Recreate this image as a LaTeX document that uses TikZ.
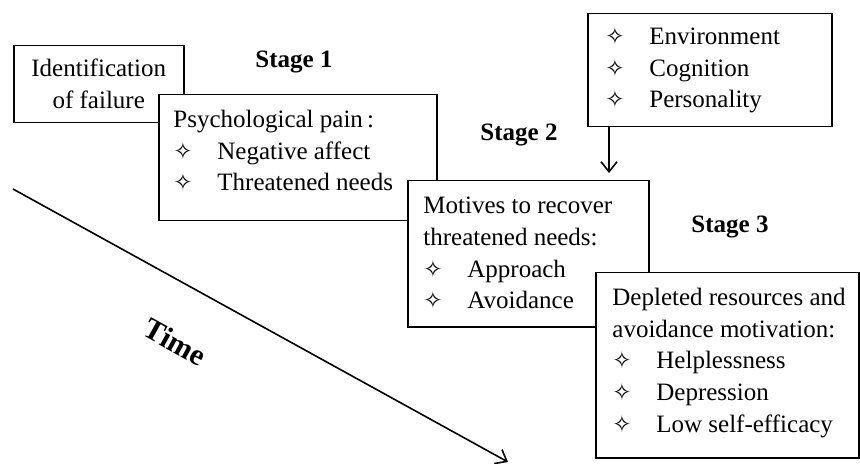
\documentclass[tikz,border=0pt]{standalone}
\usepackage{fontspec}
\setmainfont{Liberation Serif}
\newfontfamily\symfont{DejaVu Sans}
\usetikzlibrary{arrows.meta, positioning}
\newcommand{\itm}[1]{\makebox[22pt][l]{\symfont\fontsize{11.5}{11.5}\selectfont ✧}#1}

\begin{document}
\begin{tikzpicture}[
  x=0.5pt, y=-0.5pt,
  box/.style={rectangle, draw, fill=white, line width=0.75pt, inner sep=0pt,
              anchor=north west},
  txt/.style={anchor=north west, inner sep=0pt, align=left,
              font=\fontsize{12.5}{15.8}\selectfont},
  stage/.style={font=\fontsize{12.5}{15}\selectfont\bfseries},
  arr/.style={-{Straight Barb[length=5pt, width=8pt]}, line width=0.8pt},
]
\useasboundingbox (0,0) rectangle (860,464);

% Stages, left to right
\node[box, minimum width=85pt, minimum height=38.5pt, align=center,
      font=\fontsize{12.5}{16}\selectfont] (ident) at (13,45) {Identification\\of failure};
\node[box, minimum width=139pt, minimum height=63pt] (pain) at (158,94) {};
\node[txt] (painTxt) at ([xshift=7.5pt, yshift=-8pt]pain.north west)
  {Psychological pain\,:\\ \itm{Negative affect}\\ \itm{Threatened needs}};
\node[box, minimum width=120.5pt, minimum height=73pt] (motives) at (407,180) {};
\node[txt] (motivesTxt) at ([xshift=8pt, yshift=-8.5pt]motives.north west)
  {Motives to recover\\ threatened needs:\\ \itm{Approach}\\ \itm{Avoidance}};
\node[box, minimum width=131.5pt, minimum height=92.5pt] (depl) at (595,272) {};
\node[txt] (deplTxt) at ([xshift=8.5pt, yshift=-8pt]depl.north west)
  {Depleted resources and\\ avoidance motivation:\\ \itm{Helplessness}\\ \itm{Depression}\\ \itm{Low self-efficacy}};

% Factors
\node[box, minimum width=122pt, minimum height=56.5pt] (env) at (587,13) {};
\node[txt] (envTxt) at ([xshift=9pt, yshift=-7pt]env.north west)
  {\itm{Environment}\\ \itm{Cognition}\\ \itm{Personality}};
\draw[arr, shorten >=3.5pt] ([xshift=11pt]env.south west)
  -- ([xshift=11pt]env.south west |- motives.north);

% Stage labels
\node[stage] (st1) at (294,62) {Stage 1};
\node[stage] (st2) at (519,135) {Stage 2};
\node[stage] (st3) at (730,227) {Stage 3};

% Time axis
\coordinate (tstart) at (13,189);
\coordinate (tend) at (508,462);
\draw[arr] (tstart) -- (tend);
\node[font=\fontsize{15}{18}\selectfont\bfseries, rotate=-29] (time) at (175,342) {Time};
\end{tikzpicture}
\end{document}
